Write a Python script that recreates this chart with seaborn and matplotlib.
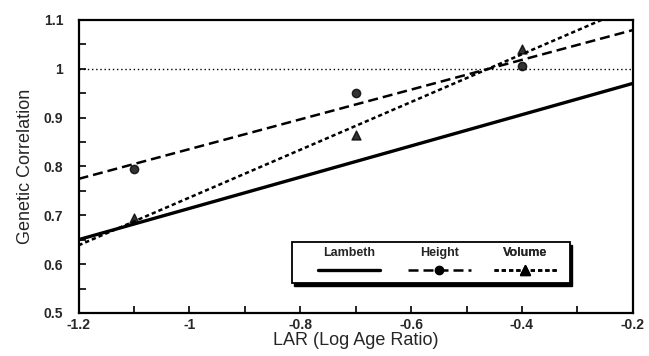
import matplotlib
matplotlib.use('Agg')
import matplotlib.pyplot as plt
from matplotlib.lines import Line2D
from matplotlib.patches import Rectangle
import seaborn as sns
import pandas as pd

# values
lar = [-1.1, -0.7, -0.4]
height_corr = [0.795, 0.95, 1.005]
volume_corr = [0.695, 0.865, 1.04]
lambeth_x = [-1.2, -0.2]
lambeth_y = [0.65, 0.97]
ref_level = 1.0

xticks = [-1.2, -1.0, -0.8, -0.6, -0.4, -0.2]
xlabels = ['-1.2', '-1', '-0.8', '-0.6', '-0.4', '-0.2']
yticks = [0.5, 0.6, 0.7, 0.8, 0.9, 1.0, 1.1]
ylabels = ['0.5', '0.6', '0.7', '0.8', '0.9', '1', '1.1']

df = pd.DataFrame({'LAR': lar, 'Height': height_corr, 'Volume': volume_corr})

sns.set_style('ticks')
plt.rcParams['font.family'] = ['Liberation Sans', 'DejaVu Sans']

fig = plt.figure(figsize=(6.49, 3.56), dpi=100)
ax = fig.add_axes([0.121, 0.121, 0.854, 0.823])
ax.set_xlim(-1.2, -0.2)
ax.set_ylim(0.5, 1.1)

# reference line at r = 1
ax.axhline(ref_level, color='black', lw=1, ls=(0, (1, 2)))

# Lambeth model
sns.lineplot(x=lambeth_x, y=lambeth_y, ax=ax, color='black', lw=2.4)

# fitted lines with observed points
sns.regplot(data=df, x='LAR', y='Height', ax=ax, ci=None, truncate=False,
            marker='o', color='black', scatter_kws={'s': 36, 'zorder': 3},
            line_kws={'lw': 1.8, 'dashes': (4.0, 2.0)})
sns.regplot(data=df, x='LAR', y='Volume', ax=ax, ci=None, truncate=False,
            marker='^', color='black', scatter_kws={'s': 42, 'zorder': 3},
            line_kws={'lw': 1.8, 'dashes': (1.7, 1.2)})

ax.set_xlim(-1.2, -0.2)
ax.set_ylim(0.5, 1.1)
ax.set_xticks(xticks)
ax.set_xticklabels(xlabels, fontweight='bold', fontsize=10)
ax.set_yticks(yticks)
ax.set_yticklabels(ylabels, fontweight='bold', fontsize=10)
ax.set_xticks([-1.1, -0.9, -0.7, -0.5, -0.3], minor=True)
ax.set_yticks([0.55, 0.65, 0.75, 0.85, 0.95, 1.05], minor=True)
ax.tick_params(axis='both', which='both', direction='in', color='black', width=1.2)
ax.tick_params(axis='both', which='major', length=5)
ax.tick_params(axis='both', which='minor', length=5)
ax.tick_params(axis='x', pad=4)
ax.tick_params(axis='y', pad=11)
for s in ax.spines.values():
    s.set_linewidth(1.6)
    s.set_color('black')

ax.set_xlabel('LAR (Log Age Ratio)', fontsize=13, labelpad=0)
ax.set_ylabel('Genetic Correlation', fontsize=13, labelpad=7)

# legend box with labels above the line samples
shadow = Rectangle((0.389, 0.093), 0.501, 0.14, transform=ax.transAxes,
                   facecolor='black', edgecolor='black', zorder=4)
box = Rectangle((0.385, 0.102), 0.501, 0.14, transform=ax.transAxes,
                facecolor='white', edgecolor='black', lw=1.3, zorder=5)
ax.add_patch(shadow)
ax.add_patch(box)

handles = [
    Line2D([], [], color='black', lw=2.4),
    Line2D([], [], color='black', lw=1.8, dashes=(4.0, 2.0), marker='o', ms=6),
    Line2D([], [], color='black', lw=1.8, dashes=(1.7, 1.2), marker='^', ms=6.5),
]
titles = ['Lambeth', 'Height', 'Volume']
centers = [0.488, 0.651, 0.806]
for h, t, cx in zip(handles, titles, centers):
    leg = ax.legend([h], [''], title=t, loc='center', bbox_to_anchor=(cx, 0.172),
                    frameon=False, handlelength=5.0, handletextpad=0,
                    borderpad=0, fontsize=9,
                    title_fontproperties={'weight': 'bold', 'size': 9})
    leg.set_zorder(6)
    ax.add_artist(leg)

plt.savefig('out.png', dpi=100)
